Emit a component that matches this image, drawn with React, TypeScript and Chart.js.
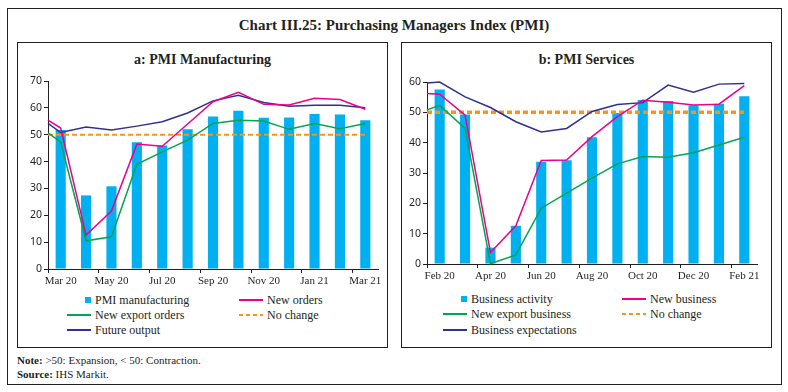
import React, { useEffect, useRef } from "react";
import { Chart, registerables } from "chart.js";
Chart.register(...registerables);

// ---------- Panel a: PMI Manufacturing ----------
const mfgMonths = ["Mar 20", "Apr 20", "May 20", "Jun 20", "Jul 20", "Aug 20", "Sep 20", "Oct 20", "Nov 20", "Dec 20", "Jan 21", "Feb 21", "Mar 21"];
const pmiManufacturing = [51.8, 27.4, 30.8, 47.2, 46.0, 52.0, 56.8, 58.9, 56.3, 56.4, 57.7, 57.5, 55.4];
// values drawn at the axis origin (previous month)
const newOrdersPrev = 55.4;
const newOrders = [52.5, 12.6, 21.6, 46.5, 45.7, 54.0, 62.3, 65.8, 61.3, 61.1, 63.6, 63.1, 59.5];
const newExportOrdersPrev = 50.7;
const newExportOrders = [47.3, 10.5, 12.0, 39.0, 43.6, 48.0, 54.2, 55.4, 55.1, 52.0, 54.2, 52.2, 54.2];
const futureOutputPrev = 54.2;
const futureOutput = [50.8, 52.9, 51.8, 53.2, 54.8, 58.1, 62.6, 64.7, 62.0, 60.6, 61.0, 61.0, 60.0];
const mfgYTicks = [0, 10, 20, 30, 40, 50, 60, 70];

// ---------- Panel b: PMI Services ----------
const svcMonths = ["Feb 20", "Mar 20", "Apr 20", "May 20", "Jun 20", "Jul 20", "Aug 20", "Sep 20", "Oct 20", "Nov 20", "Dec 20", "Jan 21", "Feb 21"];
const businessActivity = [57.5, 49.3, 5.4, 12.6, 33.7, 34.2, 41.8, 49.8, 54.1, 53.7, 52.3, 52.8, 55.3];
const newBusinessPrev = 56.2;
const newBusiness = [56.0, 49.1, 3.8, 12.6, 34.1, 34.3, 42.0, 48.6, 54.0, 53.3, 52.4, 52.7, 58.8];
const newExportBusinessPrev = 50.8;
const newExportBusiness = [52.3, 44.7, 0.1, 3.0, 18.4, 23.4, 28.3, 33.0, 35.4, 35.2, 36.7, 39.2, 41.8];
const businessExpectationsPrev = 59.7;
const businessExpectations = [60.0, 55.1, 51.6, 46.9, 43.5, 44.7, 50.3, 52.6, 53.2, 59.0, 56.6, 59.3, 59.5];
const svcYTicks = [0, 10, 20, 30, 40, 50, 60];

const noChangeLevel = 50;

const C_BAR = "#00b0f0";
const C_PINK = "#ec008c";
const C_GREEN = "#00a651";
const C_NAVY = "#2e3192";
const C_ORANGE = "#f7941d";
const C_TEXT = "#231f20";

const SERIF = "'Liberation Serif', 'DejaVu Serif', serif";
const SANS = "'Noto Sans', 'Open Sans', sans-serif";

type PanelCfg = {
  months: string[];
  bars: number[];
  lines: { prev: number; values: number[]; color: string }[];
  yTicks: number[];
  yWidth: number;
  padding: { top: number; right: number; bottom: number; left: number };
  dashWidth: number;
  dash: number[];
};

function lineData(prev: number, values: number[]) {
  return [{ x: -0.5, y: prev }, ...values.map((v, i) => ({ x: i, y: v }))];
}

function PanelChart({ cfg, width, height }: { cfg: PanelCfg; width: number; height: number }) {
  const ref = useRef<HTMLCanvasElement | null>(null);
  useEffect(() => {
    if (!ref.current) return;
    const n = cfg.months.length;
    const tickVals = cfg.months.map((_, i) => i - 0.5).filter((_, i) => i % 2 === 0);
    const yMax = cfg.yTicks[cfg.yTicks.length - 1];
    const datasets: any[] = [
      ...cfg.lines.map((l) => ({
        type: "line",
        data: lineData(l.prev, l.values),
        borderColor: l.color,
        borderWidth: 1.5,
        pointRadius: 0,
        tension: 0,
        clip: false,
        order: 1,
      })),
      {
        type: "line",
        data: [
          { x: -0.5, y: noChangeLevel },
          { x: n - 1, y: noChangeLevel },
        ],
        borderColor: C_ORANGE,
        borderWidth: cfg.dashWidth,
        borderDash: cfg.dash,
        pointRadius: 0,
        order: 2,
      },
      {
        type: "bar",
        data: cfg.bars.map((v, i) => ({ x: i, y: v })),
        backgroundColor: C_BAR,
        barPercentage: 0.4,
        categoryPercentage: 1,
        order: 5,
      },
    ];
    const chart = new Chart(ref.current, {
      type: "bar",
      data: { datasets },
      options: {
        responsive: false,
        maintainAspectRatio: false,
        animation: false,
        layout: { padding: cfg.padding },
        plugins: { legend: { display: false }, tooltip: { enabled: false } },
        scales: {
          x: {
            type: "linear",
            min: -0.5,
            max: n - 0.5,
            offset: false,
            grid: { display: true, drawOnChartArea: false, drawTicks: true, tickLength: 4, color: C_TEXT, offset: false },
            border: { display: true, color: C_TEXT, width: 1 },
            afterBuildTicks: (scale: any) => {
              scale.ticks = tickVals.map((v) => ({ value: v }));
            },
            afterFit: (scale: any) => {
              scale.height = 20;
            },
            ticks: {
              autoSkip: false,
              maxRotation: 0,
              padding: 2,
              labelOffset: 12.7,
              color: C_TEXT,
              font: { family: SERIF, size: 11 },
              callback: (v: any) => cfg.months[Math.round(Number(v) + 0.5)] ?? "",
            },
          } as any,
          y: {
            min: 0,
            max: yMax,
            grid: { display: true, drawOnChartArea: false, drawTicks: true, tickLength: 4, color: C_TEXT },
            border: { display: true, color: C_TEXT, width: 1 },
            afterBuildTicks: (scale: any) => {
              scale.ticks = cfg.yTicks.map((v) => ({ value: v }));
            },
            afterFit: (scale: any) => {
              scale.width = cfg.yWidth;
            },
            ticks: {
              padding: 2,
              color: C_TEXT,
              font: { family: SANS, size: 10.5 },
            },
          },
        },
      } as any,
    });
    return () => chart.destroy();
  }, []);
  return <canvas ref={ref} width={width} height={height} style={{ width, height, display: "block" }} />;
}

type LegendEntry = { label: string; kind: "box" | "line" | "dash"; color: string; x: number; y: number };

function LegendItem({ e }: { e: LegendEntry }) {
  let marker;
  if (e.kind === "box") {
    marker = <div style={{ position: "absolute", left: -10, top: -3, width: 6, height: 6, background: e.color }} />;
  } else if (e.kind === "line") {
    marker = <div style={{ position: "absolute", left: -28, top: -1, width: 24, height: 2, background: e.color }} />;
  } else {
    marker = (
      <div
        style={{
          position: "absolute",
          left: -28,
          top: -1,
          width: 24,
          height: 2,
          background: `repeating-linear-gradient(to right, ${e.color} 0px, ${e.color} 4px, transparent 4px, transparent 7px)`,
        }}
      />
    );
  }
  return (
    <div style={{ position: "absolute", left: e.x, top: e.y }}>
      {marker}
      <div
        style={{
          position: "absolute",
          left: 0,
          top: -8,
          whiteSpace: "nowrap",
          fontFamily: SERIF,
          fontSize: 12,
          lineHeight: "16px",
          color: C_TEXT,
        }}
      >
        {e.label}
      </div>
    </div>
  );
}

const leftLegend: LegendEntry[] = [
  { label: "PMI manufacturing", kind: "box", color: C_BAR, x: 95, y: 300 },
  { label: "New orders", kind: "line", color: C_PINK, x: 267, y: 300 },
  { label: "New export orders", kind: "line", color: C_GREEN, x: 95, y: 315 },
  { label: "No change", kind: "dash", color: C_ORANGE, x: 267, y: 315 },
  { label: "Future output", kind: "line", color: C_NAVY, x: 95, y: 330 },
];
const rightLegend: LegendEntry[] = [
  { label: "Business activity", kind: "box", color: C_BAR, x: 471, y: 299 },
  { label: "New business", kind: "line", color: C_PINK, x: 650, y: 299 },
  { label: "New export business", kind: "line", color: C_GREEN, x: 471, y: 314 },
  { label: "No change", kind: "dash", color: C_ORANGE, x: 650, y: 314 },
  { label: "Business expectations", kind: "line", color: C_NAVY, x: 471, y: 330 },
];

const leftCfg: PanelCfg = {
  months: mfgMonths,
  bars: pmiManufacturing,
  lines: [
    { prev: newOrdersPrev, values: newOrders, color: C_PINK },
    { prev: newExportOrdersPrev, values: newExportOrders, color: C_GREEN },
    { prev: futureOutputPrev, values: futureOutput, color: C_NAVY },
  ],
  yTicks: mfgYTicks,
  yWidth: 30,
  padding: { top: 9, right: 5, bottom: 1, left: 0 },
  dashWidth: 2,
  dash: [5, 3],
};

const rightCfg: PanelCfg = {
  months: svcMonths,
  bars: businessActivity,
  lines: [
    { prev: newBusinessPrev, values: newBusiness, color: C_PINK },
    { prev: newExportBusinessPrev, values: newExportBusiness, color: C_GREEN },
    { prev: businessExpectationsPrev, values: businessExpectations, color: C_NAVY },
  ],
  yTicks: svcYTicks,
  yWidth: 27,
  padding: { top: 10, right: 13, bottom: 6, left: 0 },
  dashWidth: 3.5,
  dash: [5, 3],
};

export default function App() {
  const box = (l: number, t: number, w: number, h: number) => ({
    position: "absolute" as const,
    left: l,
    top: t,
    width: w,
    height: h,
    border: `1px solid ${C_TEXT}`,
    boxSizing: "border-box" as const,
  });
  return (
    <div style={{ position: "absolute", left: 0, top: 0, width: 788, height: 392, background: "#fff", overflow: "hidden" }}>
      <div style={box(7, 8, 775, 377)} />
      <div
        style={{
          position: "absolute",
          left: 0,
          top: 15,
          width: 788,
          textAlign: "center",
          fontFamily: SERIF,
          fontWeight: "bold",
          fontSize: 15,
          lineHeight: "20px",
          color: C_TEXT,
        }}
      >
        Chart III.25: Purchasing Managers Index (PMI)
      </div>
      <div style={box(17, 42, 371, 306)} />
      <div style={box(401, 42, 371, 306)} />
      <div
        style={{ position: "absolute", left: 17, top: 51, width: 371, textAlign: "center", fontFamily: SERIF, fontWeight: "bold", fontSize: 14, lineHeight: "18px", color: C_TEXT }}
      >
        a: PMI Manufacturing
      </div>
      <div
        style={{ position: "absolute", left: 401, top: 51, width: 371, textAlign: "center", fontFamily: SERIF, fontWeight: "bold", fontSize: 14, lineHeight: "18px", color: C_TEXT }}
      >
        b: PMI Services
      </div>
      <div style={{ position: "absolute", left: 18, top: 72 }}>
        <PanelChart cfg={leftCfg} width={365} height={218} />
      </div>
      <div style={{ position: "absolute", left: 400, top: 72 }}>
        <PanelChart cfg={rightCfg} width={370} height={218} />
      </div>
      {leftLegend.map((e) => (
        <LegendItem key={"l" + e.label} e={e} />
      ))}
      {rightLegend.map((e) => (
        <LegendItem key={"r" + e.label} e={e} />
      ))}
      <div style={{ position: "absolute", left: 17, top: 353, fontFamily: SERIF, fontSize: 11, lineHeight: "14px", color: C_TEXT, whiteSpace: "nowrap" }}>
        <div>
          <b>Note:</b> &gt;50: Expansion, &lt; 50: Contraction.
        </div>
        <div>
          <b>Source:</b> IHS Markit.
        </div>
      </div>
    </div>
  );
}
